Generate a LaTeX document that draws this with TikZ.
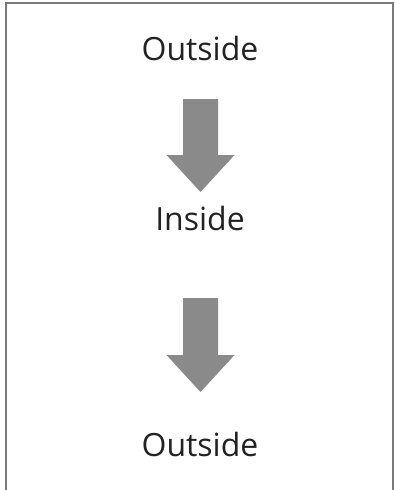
\documentclass[tikz,border=0pt]{standalone}
\usepackage{fontspec}
\setmainfont{Open Sans}
\usetikzlibrary{calc}
\definecolor{arrowgray}{HTML}{8A8A8A}
\definecolor{framegray}{HTML}{7A7A7A}
\definecolor{labeltext}{HTML}{222222}

% block arrow from the top of its shaft (#1) to its tip (#2)
\newcommand{\flowarrow}[2]{%
    \fill[arrowgray] ($(#1)+(-17.5,0)$) -- ($(#1)+(17.5,0)$)
        -- ($(#2)+(17.5,-37)$) -- ($(#2)+(34,-37)$) -- (#2)
        -- ($(#2)+(-34,-37)$) -- ($(#2)+(-17.5,-37)$) -- cycle;%
}

\begin{document}
\begin{tikzpicture}[
    x=0.75pt, y=-0.75pt,
    stage/.style={anchor=base, inner sep=0pt, text=labeltext,
                  font=\fontsize{24}{28}\selectfont},
    frameline/.style={draw=framegray, line width=1.2pt},
]
\useasboundingbox (0,0) rectangle (395,490);

% frame, open at the bottom
\draw[frameline] (6,490) -- (6,3) -- (393,3) -- (393,490);

\node[stage] (outer1) at (200,60) {Outside};
\node[stage] (inner) at (200,230) {Inside};
\node[stage] (outer2) at (200,456) {Outside};

% arrows between the stages
\coordinate (top1) at ($(outer1.base)+(0.5,39)$);
\coordinate (tip1) at ($(inner.base)+(0.5,-38)$);
\coordinate (top2) at ($(inner.base)+(0.5,68)$);
\coordinate (tip2) at ($(outer2.base)+(0.5,-64)$);
\flowarrow{top1}{tip1}
\flowarrow{top2}{tip2}

\end{tikzpicture}
\end{document}
